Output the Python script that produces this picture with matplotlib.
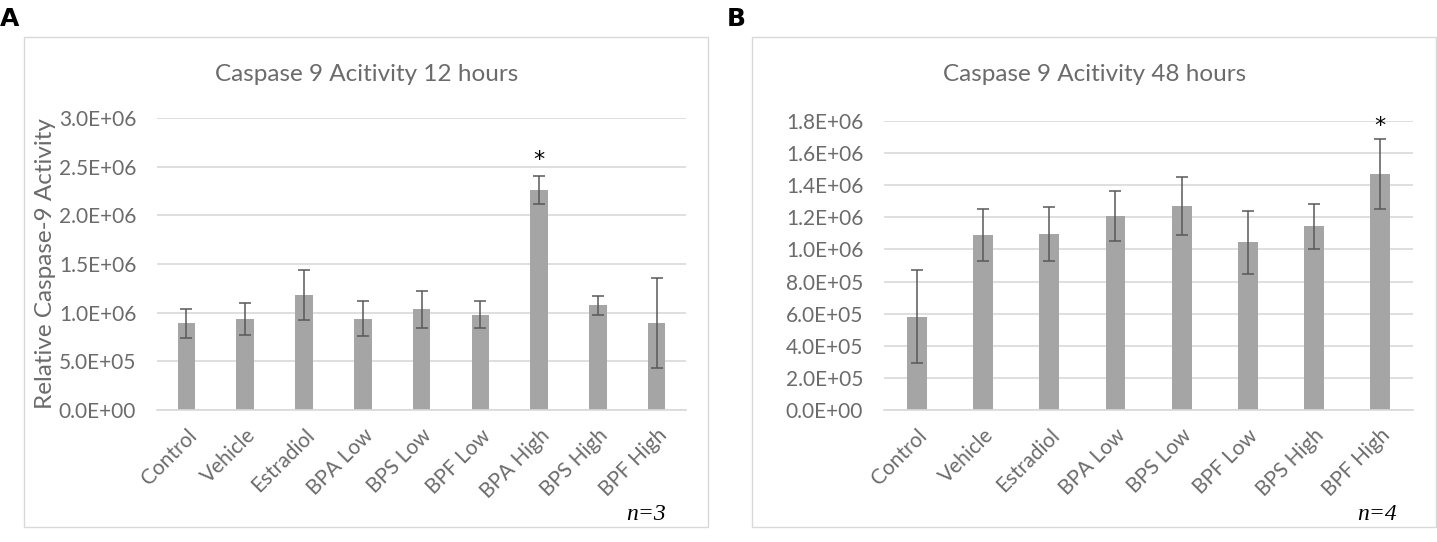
import matplotlib.pyplot as plt
from matplotlib.patches import Rectangle

# Panel A: 12 hours
cats_12 = ["Control", "Vehicle", "Estradiol", "BPA Low", "BPS Low",
           "BPF Low", "BPA High", "BPS High", "BPF High"]
mean_12 = [0.89e6, 0.935e6, 1.18e6, 0.94e6, 1.035e6, 0.98e6, 2.26e6, 1.075e6, 0.895e6]
err_12 = [0.15e6, 0.16e6, 0.255e6, 0.175e6, 0.19e6, 0.14e6, 0.14e6, 0.095e6, 0.465e6]

# Panel B: 48 hours
cats_48 = ["Control", "Vehicle", "Estradiol", "BPA Low", "BPS Low",
           "BPF Low", "BPS High", "BPF High"]
mean_48 = [0.58e6, 1.09e6, 1.095e6, 1.21e6, 1.27e6, 1.045e6, 1.145e6, 1.47e6]
err_48 = [0.29e6, 0.16e6, 0.167e6, 0.155e6, 0.18e6, 0.195e6, 0.14e6, 0.22e6]

BAR = "#a5a5a5"
ERR = "#595959"
GRID = "#d9d9d9"
TXT = "#6b6b6b"
FONT = "Lato"

plt.rcParams["font.family"] = FONT

fig = plt.figure(figsize=(14.37, 5.42), dpi=100)


def sci(v, pos):
    return "%.1E" % v


def panel(rect, cats, means, errs, ymax, ystep, title, title_x, star_idx, star_y,
          frame_x, letter, letter_x, n_text, n_x, ylabel=None):
    # outer frame
    fig.patches.append(Rectangle((frame_x[0], 0.028), frame_x[1] - frame_x[0], 0.904,
                                 transform=fig.transFigure, fill=False,
                                 edgecolor=GRID, linewidth=1.0))
    ax = fig.add_axes(rect)
    x = list(range(len(cats)))
    ax.bar(x, means, width=0.3, color=BAR, zorder=2)
    ax.errorbar(x, means, yerr=errs, fmt="none", ecolor=ERR, elinewidth=1.1,
                capsize=4, capthick=1.1, zorder=3)
    ax.set_xlim(-0.5, len(cats) - 0.5)
    ax.set_ylim(0, ymax)
    ticks = []
    t = 0.0
    while t <= ymax + 1:
        ticks.append(t)
        t += ystep
    ax.set_yticks(ticks)
    ax.yaxis.set_major_formatter(plt.FuncFormatter(sci))
    ax.grid(axis="y", color=GRID, linewidth=1.2, zorder=0)
    ax.set_axisbelow(True)
    for s in ["top", "right", "left"]:
        ax.spines[s].set_visible(False)
    ax.spines["bottom"].set_color(GRID)
    ax.spines["bottom"].set_linewidth(1.2)
    ax.tick_params(axis="both", length=0, colors=TXT, labelsize=15)
    ax.tick_params(axis="y", pad=15)
    ax.set_xticks(x)
    ax.set_xticklabels(cats, rotation=45, ha="right", rotation_mode="anchor")
    ax.tick_params(axis="x", pad=11)
    if ylabel:
        ax.set_ylabel(ylabel, color=TXT, fontsize=17.5, labelpad=2)
    ax.text(star_idx, star_y, "*", ha="center", va="center", fontsize=16,
            color="black", family="DejaVu Sans")
    fig.text(title_x, 0.862, title, ha="center", va="center", fontsize=17.5, color=TXT)
    fig.text(letter_x, 0.965, letter, ha="left", va="center", fontsize=18,
             fontweight="bold", color="black", family="DejaVu Sans")
    fig.text(n_x, 0.05, n_text, ha="center", va="center", fontsize=17,
             style="italic", family="Liberation Serif", color="black")
    return ax


panel([0.1093, 0.2435, 0.3681, 0.5388], cats_12, mean_12, err_12, 3.0e6, 0.5e6,
      "Caspase 9 Acitivity 12 hours", 0.2554, 6, 2.57e6, (0.0167, 0.4927),
      "A", 0.0, "n=3", 0.4495, ylabel="Relative Caspase-9 Activity")

panel([0.6152, 0.2435, 0.3681, 0.5332], cats_48, mean_48, err_48, 1.8e6, 0.2e6,
      "Caspase 9 Acitivity 48 hours", 0.762, 7, 1.77e6, (0.5233, 0.9993),
      "B", 0.5055, "n=4", 0.958)

plt.savefig("out.png", dpi=100)
plt.close()
